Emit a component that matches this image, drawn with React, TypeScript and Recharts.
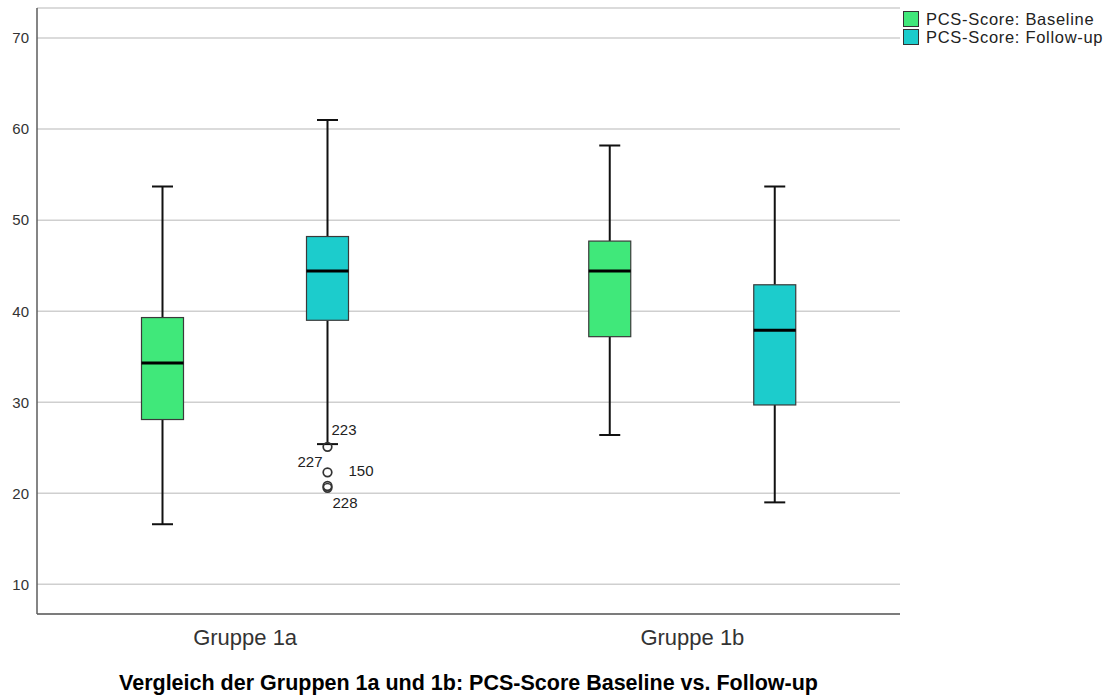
import React from "react"
import { ComposedChart, Bar, XAxis, YAxis, CartesianGrid, Legend } from "recharts"

const GROUPS = ["Gruppe 1a", "Gruppe 1b"]

// PCS-Score Baseline
const BASELINE_LOW = [16.6, 26.4]
const BASELINE_Q1 = [28.1, 37.2]
const BASELINE_MEDIAN = [34.3, 44.4]
const BASELINE_Q3 = [39.3, 47.7]
const BASELINE_HIGH = [53.7, 58.2]

// PCS-Score Follow-up
const FOLLOWUP_LOW = [25.4, 19.0]
const FOLLOWUP_Q1 = [39.0, 29.7]
const FOLLOWUP_MEDIAN = [44.4, 37.9]
const FOLLOWUP_Q3 = [48.2, 42.9]
const FOLLOWUP_HIGH = [61.0, 53.7]

// outliers (case numbers as labels)
const FOLLOWUP_OUTLIER_VALUES = [[25.1, 22.3, 20.8, 20.6], []]
const FOLLOWUP_OUTLIER_IDS = [["223", "150", "227", "228"], []]

const Y_TICKS = [10, 20, 30, 40, 50, 60, 70]
const TITLE = "Vergleich der Gruppen 1a und 1b: PCS-Score Baseline vs. Follow-up"

const BASELINE_COLOR = "#40e87a"
const FOLLOWUP_COLOR = "#1ccccc"
const FONT = '"Liberation Sans", Arial, sans-serif'

// where each outlier's case label sits next to its circle
const LABEL_OFFSETS: Record<string, { dx: number; dy: number; anchor: "start" | "end" }> = {
  "223": { dx: 4, dy: -12, anchor: "start" },
  "150": { dx: 21, dy: 4, anchor: "start" },
  "227": { dx: -5, dy: -19, anchor: "end" },
  "228": { dx: 5, dy: 20, anchor: "start" },
}

type Stats = { low: number; q1: number; median: number; q3: number; high: number; outliers: { value: number; id: string }[] }

const data = GROUPS.map((group, i) => ({
  group,
  baseline: {
    low: BASELINE_LOW[i], q1: BASELINE_Q1[i], median: BASELINE_MEDIAN[i],
    q3: BASELINE_Q3[i], high: BASELINE_HIGH[i], outliers: [],
  } as Stats,
  followup: {
    low: FOLLOWUP_LOW[i], q1: FOLLOWUP_Q1[i], median: FOLLOWUP_MEDIAN[i],
    q3: FOLLOWUP_Q3[i], high: FOLLOWUP_HIGH[i],
    outliers: FOLLOWUP_OUTLIER_VALUES[i].map((v, k) => ({ value: v, id: FOLLOWUP_OUTLIER_IDS[i][k] })),
  } as Stats,
}))

const rangeOf = (s: Stats) => [Math.min(s.low, ...s.outliers.map((o) => o.value)), s.high]

function BoxShape(props: any) {
  const { x, y, width, height, payload, seriesKey, color } = props
  const s: Stats = payload[seriesKey]
  const [lo, hi] = rangeOf(s)
  const top = Math.min(y, y + height)
  const bottom = Math.max(y, y + height)
  // bar spans [lo, hi], so map values linearly inside it
  const py = (v: number) => bottom - ((v - lo) / (hi - lo)) * (bottom - top)
  const cx = x + width / 2
  const cap = 10.5
  return (
    <g>
      <line x1={cx} x2={cx} y1={py(s.high)} y2={py(s.q3)} stroke="#111" strokeWidth={2} />
      <line x1={cx} x2={cx} y1={py(s.q1)} y2={py(s.low)} stroke="#111" strokeWidth={2} />
      <line x1={cx - cap} x2={cx + cap} y1={py(s.high)} y2={py(s.high)} stroke="#111" strokeWidth={2} />
      <line x1={cx - cap} x2={cx + cap} y1={py(s.low)} y2={py(s.low)} stroke="#111" strokeWidth={2} />
      <rect
        x={x}
        y={py(s.q3)}
        width={width}
        height={py(s.q1) - py(s.q3)}
        fill={color}
        stroke="#3a3a3a"
        strokeWidth={1.2}
      />
      <line x1={x} x2={x + width} y1={py(s.median)} y2={py(s.median)} stroke="#000" strokeWidth={3} />
      {s.outliers.map((o) => {
        const off = LABEL_OFFSETS[o.id] ?? { dx: 6, dy: 4, anchor: "start" }
        return (
          <g key={o.id}>
            <circle cx={cx} cy={py(o.value)} r={4.3} fill="none" stroke="#333" strokeWidth={1.7} />
            <text
              x={cx + off.dx}
              y={py(o.value) + off.dy}
              textAnchor={off.anchor}
              fontSize={15}
              fontFamily={FONT}
              fill="#222"
            >
              {o.id}
            </text>
          </g>
        )
      })}
    </g>
  )
}

function LegendBox({ payload }: any) {
  return (
    <div style={{ fontFamily: FONT, fontSize: 16.5, letterSpacing: 0.7, lineHeight: "18px", color: "#222" }}>
      {(payload ?? []).map((item: any) => (
        <div key={item.value} style={{ display: "flex", alignItems: "center", height: 18, whiteSpace: "nowrap" }}>
          <span
            style={{
              display: "inline-block",
              width: 14,
              height: 14,
              background: item.color,
              border: "1px solid #333",
              marginRight: 7,
            }}
          />
          <span>{item.value}</span>
        </div>
      ))}
    </div>
  )
}

export default function App() {
  return (
    <div style={{ position: "absolute", left: 0, top: 0, background: "#fff" }}>
      <ComposedChart
        width={1111}
        height={696}
        data={data}
        margin={{ top: 8, right: 211, left: 0, bottom: 0 }}
        barGap={123}
      >
        <CartesianGrid vertical={false} stroke="#cfcfcf" strokeWidth={1.5} />
        <XAxis
          dataKey="group"
          height={82}
          padding={{ left: -15.5, right: -16 }}
          tickLine={false}
          tickSize={0}
          tickMargin={15}
          axisLine={{ stroke: "#5c5c5c", strokeWidth: 1.5 }}
          tick={{ fill: "#333", fontSize: 22, fontFamily: FONT }}
          label={{
            value: TITLE,
            position: "insideBottom",
            offset: 6,
            style: { fill: "#000", fontSize: 21.5, fontWeight: "bold", fontFamily: FONT },
          }}
        />
        <YAxis
          width={37}
          domain={[6.74, 73.3]}
          ticks={Y_TICKS}
          allowDataOverflow
          tickLine={false}
          tickSize={0}
          tickMargin={8}
          axisLine={{ stroke: "#5c5c5c", strokeWidth: 1.5 }}
          tick={{ fill: "#333", fontSize: 15, fontFamily: FONT }}
        />
        <Legend
          layout="horizontal"
          verticalAlign="middle"
          align="center"
          wrapperStyle={{ top: 10, left: 903, width: 208 }}
          content={<LegendBox />}
        />
        <Bar
          name="PCS-Score: Baseline"
          dataKey={(d: any) => rangeOf(d.baseline)}
          fill={BASELINE_COLOR}
          barSize={42}
          isAnimationActive={false}
          shape={(p: any) => <BoxShape {...p} seriesKey="baseline" color={BASELINE_COLOR} />}
        />
        <Bar
          name="PCS-Score: Follow-up"
          dataKey={(d: any) => rangeOf(d.followup)}
          fill={FOLLOWUP_COLOR}
          barSize={42}
          isAnimationActive={false}
          shape={(p: any) => <BoxShape {...p} seriesKey="followup" color={FOLLOWUP_COLOR} />}
        />
      </ComposedChart>
    </div>
  )
}
